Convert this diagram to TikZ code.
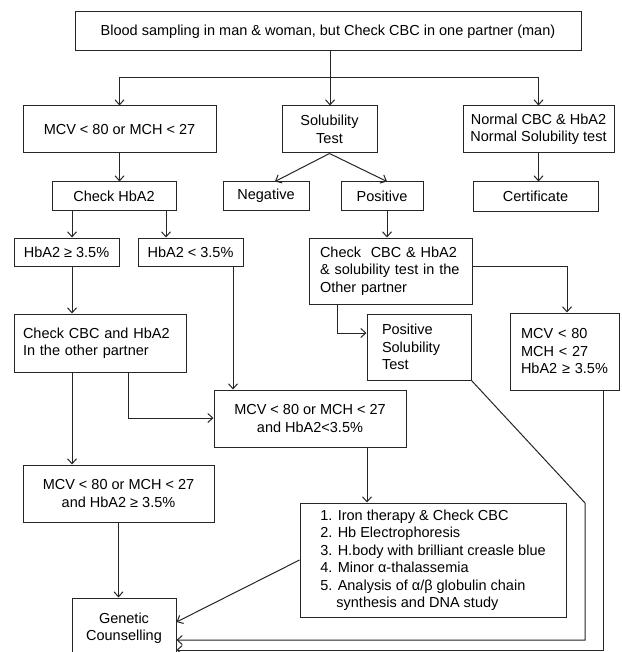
\documentclass[tikz,border=0pt]{standalone}
\usepackage{fontspec}
\setmainfont{Liberation Sans}
\usetikzlibrary{arrows.meta}
\begin{document}
\begin{tikzpicture}[x=1pt,y=-1pt,
  box/.style={draw=black!85,line width=1pt,rectangle,inner sep=0pt,
    font=\fontsize{14.5}{17.5}\selectfont,align=center},
  arr/.style={line width=1pt,draw=black!85,
    -{Straight Barb[length=5pt,width=9pt,line width=1pt]}},
  ln/.style={line width=1pt,draw=black!85}]
\useasboundingbox (0,0) rectangle (621,652);
\clip (0,0) rectangle (621,652);
\fill[white] (0,0) rectangle (621,652);

% nodes
\node[box,minimum width=506pt,minimum height=39pt] (top) at (328,31.5)
  {Blood sampling in man \& woman, but Check CBC in one partner (man)};
\node[box,minimum width=193pt,minimum height=47pt] (mcv1) at (119.5,129.5)
  {MCV < 80 or MCH < 27};
\node[box,minimum width=95pt,minimum height=47pt] (sol) at (329.5,129.5)
  {Solubility\\Test};
\node[box,minimum width=151pt,minimum height=47pt] (norm) at (538.5,129.5)
  {Normal CBC \& HbA2\\Normal Solubility test};
\node[box,minimum width=124pt,minimum height=28pt] (chk) at (114,196)
  {Check HbA2};
\node[box,minimum width=86pt,minimum height=28pt] (neg) at (266,196)
  {Negative};
\node[box,minimum width=82pt,minimum height=28pt] (pos) at (382,196)
  {Positive};
\node[box,minimum width=125pt,minimum height=29pt] (cert) at (535.5,196.5)
  {Certificate};
\node[box,minimum width=105pt,minimum height=28pt] (hge) at (66.5,252)
  {HbA2 ≥ 3.5\%};
\node[box,minimum width=105pt,minimum height=28pt] (hlt) at (190.5,252)
  {HbA2 < 3.5\%};
\node[box,align=left,text width=141pt,inner xsep=11pt,minimum height=66pt] (chk2) at (390.5,271)
  {Check\ \ CBC \& HbA2\\\& solubility test in the\\Other partner};
\node[box,align=left,text width=154pt,inner xsep=9pt,minimum height=58pt] (other) at (100,343)
  {Check CBC and HbA2\\In the other partner};
\node[box,align=left,text width=74pt,inner xsep=15pt,minimum height=66pt] (psol) at (419,347)
  {Positive\\Solubility\\Test};
\node[box,align=left,text width=87pt,inner xsep=11pt,minimum height=77pt] (rbox) at (564.5,351.5)
  {MCV < 80\\MCH < 27\\HbA2 ≥ 3.5\%};
\node[box,minimum width=192pt,minimum height=57pt] (mlt) at (310,418.5)
  {MCV < 80 or MCH < 27\\and HbA2<3.5\%};
\node[box,minimum width=191pt,minimum height=57pt] (mge) at (118.5,493.5)
  {MCV < 80 or MCH < 27\\and HbA2 ≥ 3.5\%};
\node[box,align=left,minimum width=266pt,minimum height=114pt] (list) at (433,560)
  {1. Iron therapy \& Check CBC\\2. Hb Electrophoresis\\3. H.body with brilliant creasle blue\\4. Minor α-thalassemia\\5. Analysis of α/β globulin chain\\\hphantom{5.\ }synthesis and DNA study};
\node[box,minimum width=104pt,minimum height=60pt] (gen) at (124,628)
  {Genetic\\Counselling};

% helper coordinates
\coordinate (j) at (330,78);
\coordinate (cA) at (72,0);
\coordinate (cB) at (166,0);
\coordinate (cC) at (233,0);
\coordinate (cD) at (128,0);
\coordinate (rD) at (0,418);
\coordinate (cE) at (387,0);
\coordinate (rF) at (0,266);
\coordinate (cF) at (567,0);
\coordinate (cG) at (337,0);
\coordinate (rG) at (0,333);
\coordinate (cH) at (367,0);
\coordinate (d1) at (585,503);
\coordinate (rI) at (0,640);
\coordinate (cJ) at (603,0);
\coordinate (rJ) at (0,650);
\coordinate (rK) at (0,622);

% connectors
\draw[ln] (top.south -| j) -- (j);
\draw[arr] (j) -| (mcv1.north);
\draw[arr] (j) -- (j |- sol.north);
\draw[arr] (j) -| (norm.north);
\draw[arr] (mcv1.south) -- (mcv1.south |- chk.north);
\draw[arr] (sol.south) -- ([xshift=9pt]neg.north);
\draw[arr] (sol.south) -- (cE |- pos.north);
\draw[arr] (norm.south) -- (norm.south |- cert.north);
\draw[arr] (chk.south -| cA) -- (hge.north -| cA);
\draw[arr] (chk.south -| cB) -- (hlt.north -| cB);
\draw[arr] (hge.south -| cA) -- (other.north -| cA);
\draw[arr] (hlt.south -| cC) -- (mlt.north -| cC);
\draw[arr] (pos.south -| cE) -- (chk2.north -| cE);
\draw[arr] (chk2.east |- rF) -| (rbox.north -| cF);
\draw[arr] (chk2.south -| cG) |- (psol.west |- rG);
\draw[arr] (other.south -| cD) |- (mlt.west |- rD);
\draw[arr] (other.south -| cA) -- (mge.north -| cA);
\draw[arr] (mlt.south -| cH) -- (list.north -| cH);
\draw[arr] (mge.south) -- (mge.south |- gen.north);
\draw[arr] (list.west) -- (gen.east |- rK);
\draw[arr] (psol.south east) -- (d1) -- (d1 |- rI) -- (gen.east |- rI);
\draw[arr] (rbox.south -| cJ) -- (cJ |- rJ) -- (gen.east |- rJ);
\end{tikzpicture}
\end{document}
